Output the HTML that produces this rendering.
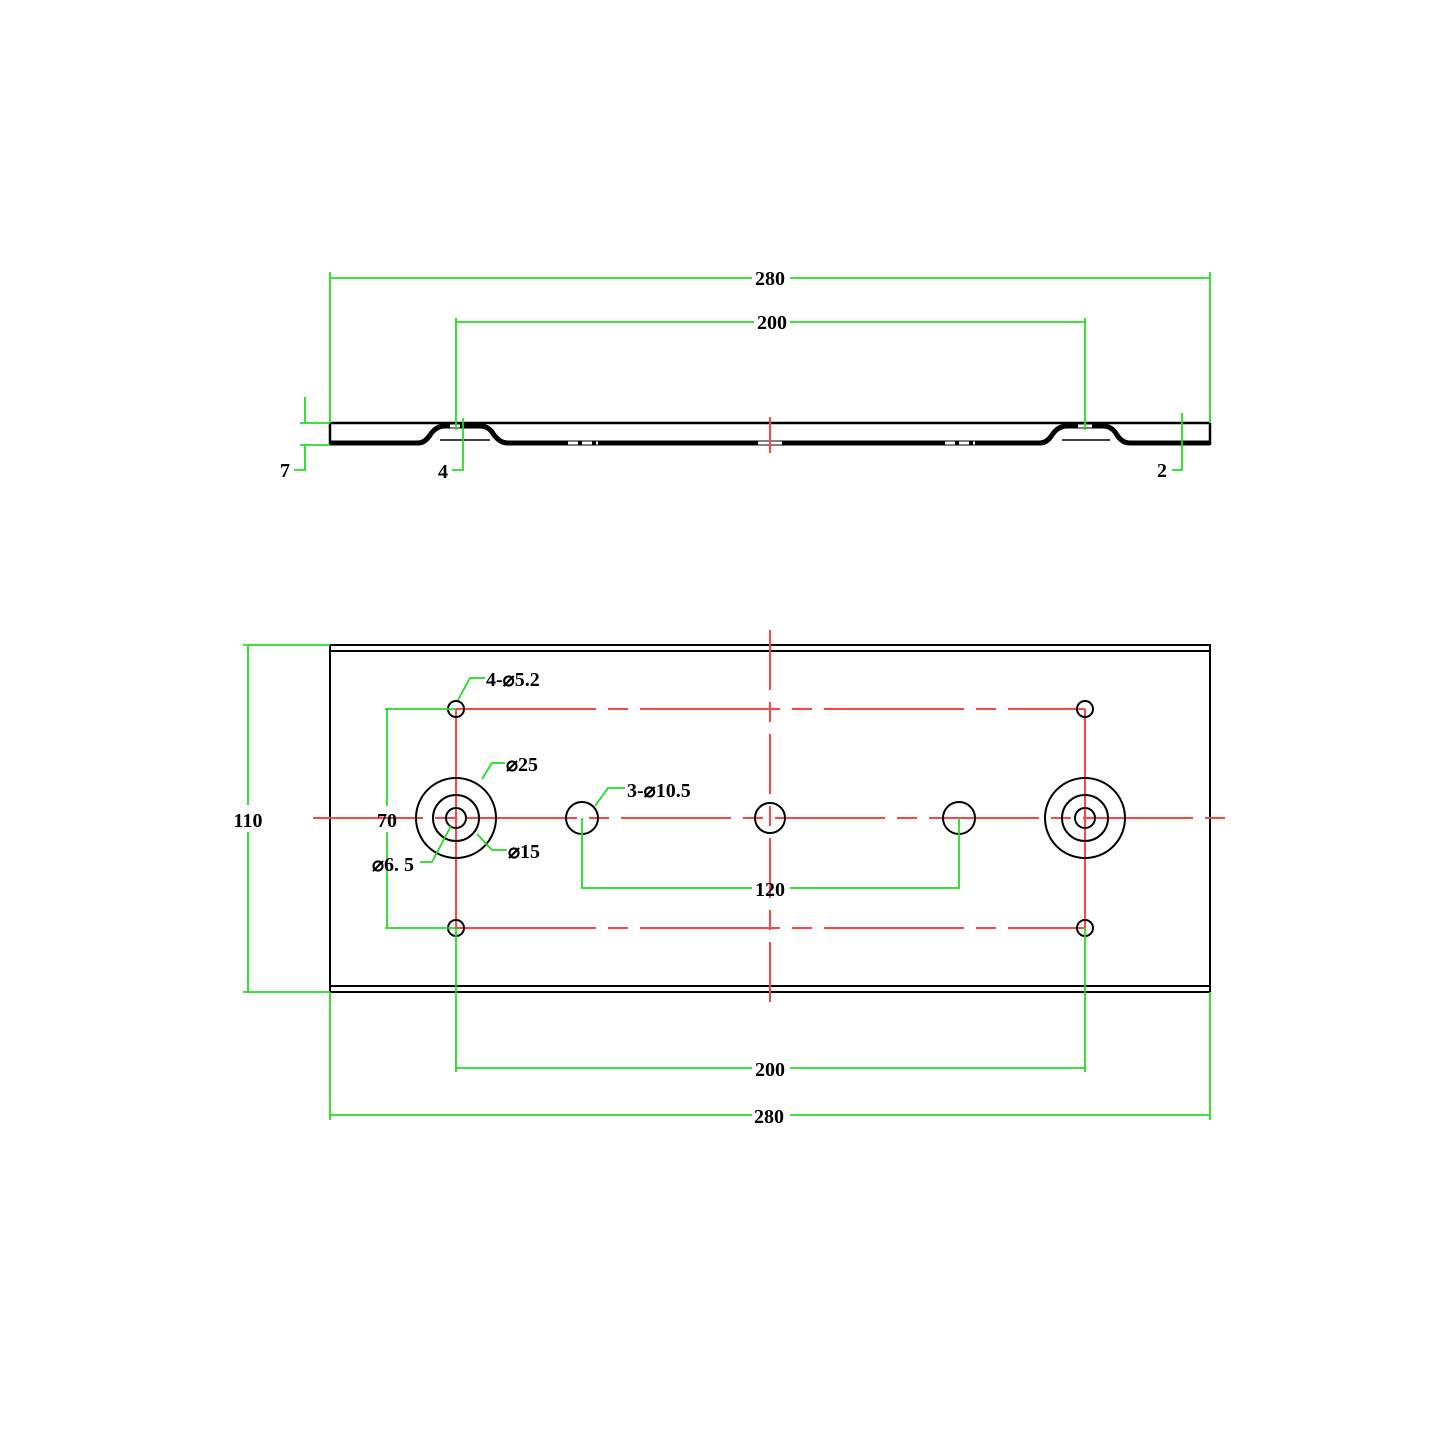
<!DOCTYPE html>
<html><head><style>body{margin:0;background:#fff}svg{display:block}</style></head><body>
<svg width="1445" height="1445" viewBox="0 0 1445 1445" xmlns="http://www.w3.org/2000/svg" font-family="Liberation Serif, serif" font-weight="bold" font-size="20">
<rect width="1445" height="1445" fill="#fff"/>
<!-- TOP VIEW -->
<g stroke="#000" fill="none">
<line x1="330" y1="423" x2="1210" y2="423" stroke-width="2.5"/>
<line x1="330" y1="423" x2="330" y2="445" stroke-width="2.5"/>
<line x1="1210" y1="423" x2="1210" y2="445" stroke-width="2.5"/>
<path d="M330 443 L418 443 Q425 443 430 435 Q436 426 445 426 L480 426 Q489 426 494 435 Q500 443 508 443 L1040 443 Q1047 443 1052 435 Q1058 426 1067 426 L1103 426 Q1112 426 1117 435 Q1122 443 1130 443 L1210 443" stroke-width="5"/>
<line x1="440" y1="440" x2="490" y2="440" stroke-width="1.5"/>
<line x1="1062" y1="440" x2="1110" y2="440" stroke-width="1.5"/>
</g>
<g stroke="#fff" stroke-width="3">
<line x1="568" y1="443" x2="598" y2="443" stroke-dasharray="10 4"/>
<line x1="758" y1="443" x2="782" y2="443"/>
<line x1="945" y1="443" x2="975" y2="443" stroke-dasharray="10 4"/>
<line x1="450" y1="426" x2="460" y2="426"/>
<line x1="1078" y1="426" x2="1092" y2="426"/>
</g>
<line x1="770" y1="417" x2="770" y2="453" stroke="#f44" stroke-width="2"/>
<g stroke="#2d2" stroke-width="1.8" fill="none">
<line x1="330" y1="272" x2="330" y2="423"/><line x1="1210" y1="272" x2="1210" y2="423"/>
<line x1="330" y1="278" x2="752" y2="278"/><line x1="790" y1="278" x2="1210" y2="278"/>
<line x1="456" y1="318" x2="456" y2="430"/><line x1="1085" y1="318" x2="1085" y2="430"/>
<line x1="456" y1="322" x2="754" y2="322"/><line x1="790" y1="322" x2="1085" y2="322"/>
<line x1="300" y1="423" x2="330" y2="423"/><line x1="300" y1="445" x2="330" y2="445"/>
<line x1="305" y1="397" x2="305" y2="423"/><polyline points="305,445 305,470 294,470"/>
<polyline points="463,418 463,470 452,470"/>
<polyline points="1182,413 1182,470 1172,470"/>
</g>
<g fill="#000">
<text x="770" y="285" text-anchor="middle">280</text>
<text x="772" y="329" text-anchor="middle">200</text>
<text x="285" y="477" text-anchor="middle">7</text>
<text x="443" y="478" text-anchor="middle">4</text>
<text x="1162" y="477" text-anchor="middle">2</text>
</g>
<!-- PLAN VIEW -->
<g stroke="#000" fill="none" stroke-width="2">
<rect x="330" y="645" width="880" height="347"/>
<line x1="330" y1="651" x2="1210" y2="651"/>
<line x1="330" y1="986" x2="1210" y2="986"/>
</g>
<g stroke="#f44" stroke-width="2" fill="none">
<line x1="313" y1="818" x2="1228" y2="818" stroke-dasharray="110 12 20 12"/>
<line x1="770" y1="630" x2="770" y2="1005" stroke-dasharray="60 12 20 12"/>
<line x1="456" y1="709" x2="1085" y2="709" stroke-dasharray="140 12 20 12"/>
<line x1="456" y1="928" x2="1085" y2="928" stroke-dasharray="140 12 20 12"/>
<line x1="456" y1="709" x2="456" y2="928"/>
<line x1="1085" y1="709" x2="1085" y2="928"/>
</g>
<g stroke="#000" fill="none" stroke-width="2">
<circle cx="456" cy="709" r="8"/><circle cx="1085" cy="709" r="8"/>
<circle cx="456" cy="928" r="8"/><circle cx="1085" cy="928" r="8"/>
<circle cx="456" cy="818" r="40"/><circle cx="456" cy="818" r="23"/><circle cx="456" cy="818" r="10"/>
<circle cx="1085" cy="818" r="40"/><circle cx="1085" cy="818" r="23"/><circle cx="1085" cy="818" r="10"/>
<circle cx="582" cy="818" r="16"/><circle cx="770" cy="818" r="15"/><circle cx="959" cy="818" r="16"/>
</g>
<g stroke="#2d2" stroke-width="1.8" fill="none">
<line x1="243" y1="645" x2="330" y2="645"/><line x1="243" y1="992" x2="330" y2="992"/>
<line x1="248" y1="645" x2="248" y2="805"/><line x1="248" y1="832" x2="248" y2="992"/>
<line x1="385" y1="709" x2="456" y2="709"/><line x1="385" y1="928" x2="456" y2="928"/>
<line x1="387" y1="709" x2="387" y2="806"/><line x1="387" y1="832" x2="387" y2="928"/>
<polyline points="582,818 582,888 752,888"/><polyline points="959,818 959,888 790,888"/>
<line x1="456" y1="928" x2="456" y2="1072"/><line x1="1085" y1="928" x2="1085" y2="1072"/>
<line x1="456" y1="1068" x2="752" y2="1068"/><line x1="790" y1="1068" x2="1085" y2="1068"/>
<line x1="330" y1="992" x2="330" y2="1120"/><line x1="1210" y1="992" x2="1210" y2="1120"/>
<line x1="330" y1="1115" x2="752" y2="1115"/><line x1="790" y1="1115" x2="1210" y2="1115"/>
<polyline points="458,700 470,678 485,678"/>
<polyline points="482,779 492,763 505,763"/>
<polyline points="595,806 608,788 625,788"/>
<polyline points="477,834 492,850 507,850"/>
<polyline points="451,826 432,862 420,862"/>
</g>
<g fill="#000">
<text x="769" y="1123" text-anchor="middle">280</text>
<text x="770" y="1076" text-anchor="middle">200</text>
<text x="770" y="896" text-anchor="middle">120</text>
<text x="248" y="827" text-anchor="middle">110</text>
<text x="387" y="827" text-anchor="middle">70</text>
<text x="486" y="686">4-⌀5.2</text>
<text x="506" y="771">⌀25</text>
<text x="627" y="797">3-⌀10.5</text>
<text x="508" y="858">⌀15</text>
<text x="372" y="871">⌀6. 5</text>
</g>
</svg>
</body></html>
